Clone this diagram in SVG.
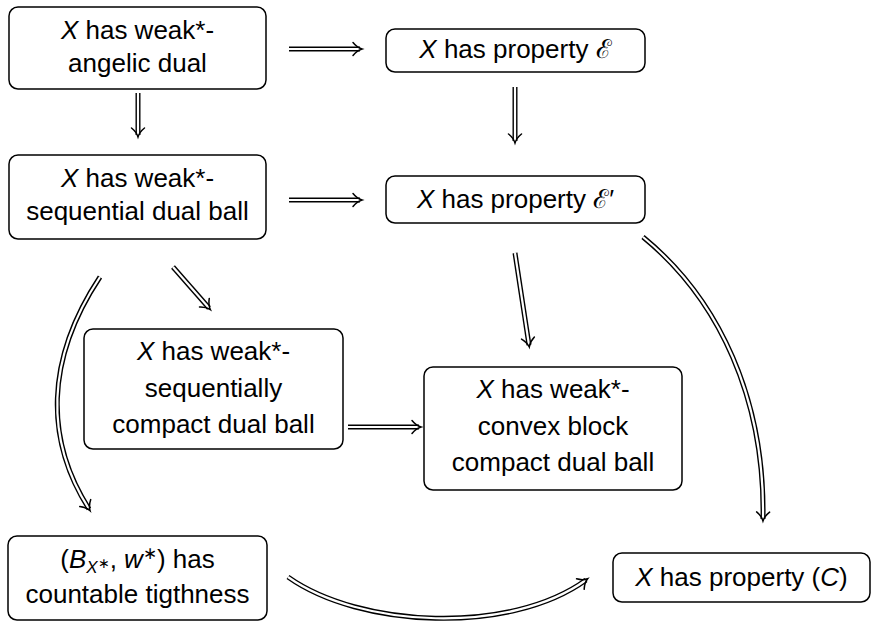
<svg xmlns="http://www.w3.org/2000/svg" width="872" height="625" viewBox="0 0 872 625">
<style>
.box{fill:#fff;stroke:#000;stroke-width:1.5}
text{font-family:"Liberation Sans",Arial,sans-serif;font-size:26px;fill:#000;text-anchor:middle}
.i{font-style:italic}
.outer{fill:none;stroke:#000;stroke-width:5}
.inner{fill:none;stroke:#fff;stroke-width:2.2;marker-end:url(#imp)}
</style>
<defs>
<marker id="imp" markerUnits="userSpaceOnUse" viewBox="-12 -10 16 20" refX="0" refY="0" markerWidth="16" markerHeight="20" orient="auto" overflow="visible">
<path d="M -7,-6.5 Q -3,-1.5 2,0 Q -3,1.5 -7,6.5" fill="none" stroke="#000" stroke-width="1.5" stroke-linecap="round"/>
</marker>
</defs>
<g id="connectors">
<path class="outer" d="M289,49 H360"/><path class="inner" d="M289,49 H360"/>
<path class="outer" d="M138,93 V135"/><path class="inner" d="M138,93 V135"/>
<path class="outer" d="M515,87 V141"/><path class="inner" d="M515,87 V141"/>
<path class="outer" d="M289,200 H360"/><path class="inner" d="M289,200 H360"/>
<path class="outer" d="M173,267 L209,308"/><path class="inner" d="M173,267 L209,308"/>
<path class="outer" d="M515,253 L529,345"/><path class="inner" d="M515,253 L529,345"/>
<path class="outer" d="M348,427 H419"/><path class="inner" d="M348,427 H419"/>
<path class="outer" d="M100,277 C45,360 45,440 89,509"/><path class="inner" d="M100,277 C45,360 45,440 89,509"/>
<path class="outer" d="M643,237 C720,300 765,400 763,519"/><path class="inner" d="M643,237 C720,300 765,400 763,519"/>
<path class="outer" d="M288,577 C360,628 510,635 586,580"/><path class="inner" d="M288,577 C360,628 510,635 586,580"/>
</g>
<g id="n1">
<rect class="box" x="9" y="7" width="257" height="82" rx="9"/>
<text x="137.5" y="39"><tspan class="i">X</tspan> has weak*-</text>
<text x="137.5" y="72">angelic dual</text>
</g>
<g id="n2">
<rect class="box" x="386" y="29" width="259" height="43" rx="9"/>
<text x="515.5" y="58"><tspan class="i">X</tspan> has property ℰ</text>
</g>
<g id="n3">
<rect class="box" x="9" y="155" width="257" height="84" rx="9"/>
<text x="137.5" y="187"><tspan class="i">X</tspan> has weak*-</text>
<text x="137.5" y="220">sequential dual ball</text>
</g>
<g id="n4">
<rect class="box" x="386" y="176" width="259" height="47" rx="9"/>
<text x="515.5" y="208"><tspan class="i">X</tspan> has property ℰ′</text>
</g>
<g id="n5">
<rect class="box" x="84" y="329" width="259" height="120" rx="9"/>
<text x="213.5" y="360"><tspan class="i">X</tspan> has weak*-</text>
<text x="213.5" y="397">sequentially</text>
<text x="213.5" y="433">compact dual ball</text>
</g>
<g id="n7">
<rect class="box" x="424" y="367" width="258" height="123" rx="9"/>
<text x="553" y="398"><tspan class="i">X</tspan> has weak*-</text>
<text x="553" y="435">convex block</text>
<text x="553" y="471">compact dual ball</text>
</g>
<g id="n6">
<rect class="box" x="8" y="536" width="259" height="84" rx="9"/>
<text x="137.5" y="568">(<tspan class="i">B</tspan><tspan class="i" font-size="17" dy="5">X</tspan><tspan font-size="14" dy="-5">∗</tspan><tspan dy="0">, </tspan><tspan class="i">w</tspan><tspan font-size="17" dy="-9">∗</tspan><tspan dy="9">) has</tspan></text>
<text x="137.5" y="603">countable tigthness</text>
</g>
<g id="n8">
<rect class="box" x="613" y="553" width="257" height="49" rx="9"/>
<text x="741.5" y="586"><tspan class="i">X</tspan> has property (<tspan class="i">C</tspan>)</text>
</g>
</svg>
